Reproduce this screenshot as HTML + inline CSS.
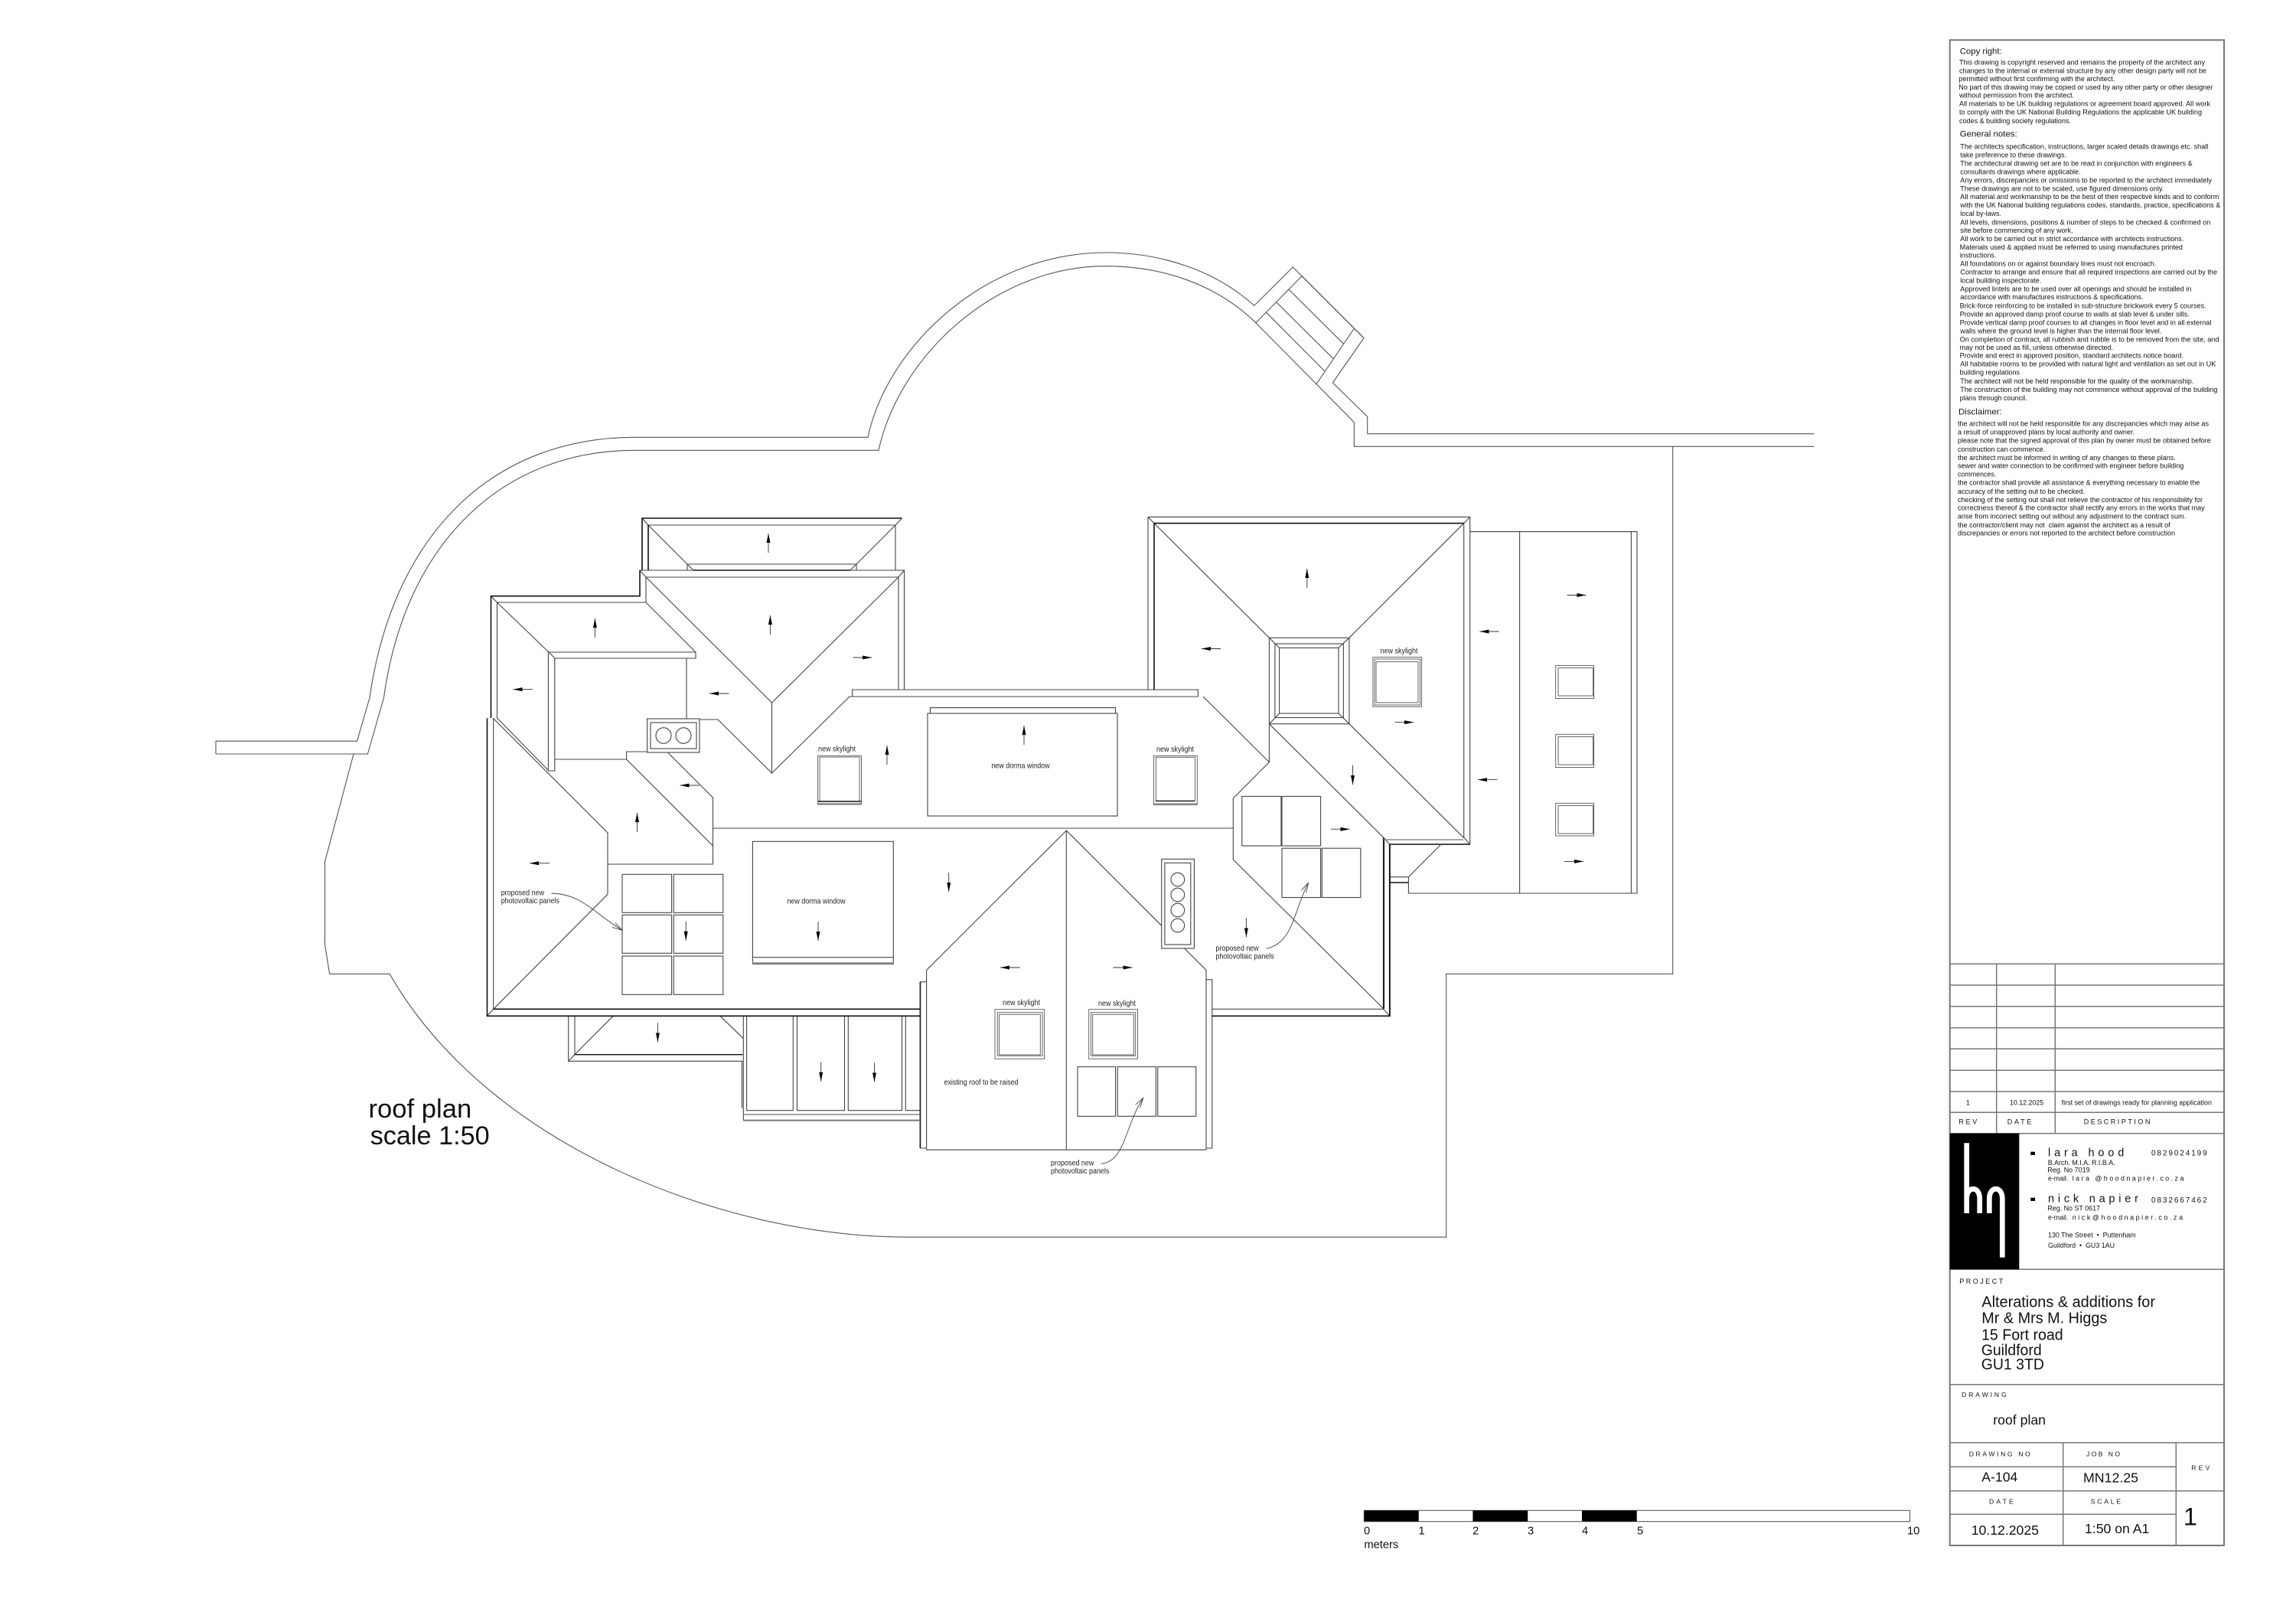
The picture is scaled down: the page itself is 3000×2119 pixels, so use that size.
<!DOCTYPE html>
<html><head><meta charset="utf-8"><title>roof plan</title>
<style>
html,body{margin:0;padding:0;background:#fff}
svg{display:block}
text{font-family:"Liberation Sans",Arial,sans-serif;fill:#111;stroke:none}
.b text{font-size:8.9px}
.l text{font-size:10.4px;fill:#222}
.h{font-size:11.4px}
</style></head><body>
<svg xmlns="http://www.w3.org/2000/svg" width="3000" height="2119" viewBox="0 0 3000 2119">
<defs>
<marker id="a" markerUnits="userSpaceOnUse" markerWidth="13" markerHeight="7" refX="12" refY="3" orient="auto"><path d="M0 .5L12 3L0 5.5Z" fill="#000"/></marker>
<marker id="o" markerUnits="userSpaceOnUse" markerWidth="14" markerHeight="10" refX="13" refY="5" orient="auto"><path d="M0 1.5L13 5L0 8.5" fill="none" stroke="#444" stroke-width=".9"/></marker>
</defs>
<rect width="3000" height="2119" fill="#fff"/>

<!-- boundary -->
<g fill="none" stroke="#555" stroke-width="1.1">
<path d="M282 985V968.2H466.6L483 911.5C515 690 650 571.3 829.3 571.3H1134C1160 450 1290 330 1444.6 330C1520 330 1590 355 1638.8 399.3L1689.3 349L1782 441.7L1741.3 500L1786.7 544.3V566.7H2370.4"/>
<path d="M282 985H480.4L501.5 911.5C530 705 660 588.3 829.3 588.3H1148C1175 465 1300 347.7 1444.6 347.7C1520 347.7 1590 372 1640.8 421.7L1720 501.7L1769.4 551.7V583.3H2370.4"/>
<path d="M1701 360.7L1640.8 421.7M1701 360.7L1769.4 429L1782 441.7M1769.4 429L1720 501.7M1684.2 378.3L1755.6 449.3M1667.9 395L1741.8 468.3M1654.6 408.3L1731 485"/>
<path d="M2185.7 583.3V1272.3H1889.7V1616.2H1185.7C950 1616 640 1500 509 1272.3H430.6L424.5 1234V1125.8L462 985"/>
</g>

<!-- house lines -->
<g fill="none" stroke="#444" stroke-width="1.1">
<path d="M847 686L906 745M1170 686L1111 745M898 745V737H1119V745M898 737L906 745M1119 737L1111 745M839 677L847 686M1178.5 677L1170 686M847 686H1170V745"/>
<path d="M836 745H1181.5V901M844 754H1174V901M836 745L844 754M1181.5 745L1174 754M641.5 778.7L649.5 787M649.5 938V787H844V754"/>
<path d="M844 754L1008.5 918L1174 754M844 787L909 852M649.5 787L717 852M716.4 852H909V860H725M716.4 852V1007H724.8V860M717 852L725 860M897 860V939"/>
<path d="M1008.5 918V1010M914 940H938L1008.5 1010L1110 910H1113.7V901H1565.4V910H1113.7"/>
<path d="M725 992H818.6V982H845.6M818.6 992L931.5 1105M872.5 983L931.5 1042V1129H794M931.5 1082H1611.3"/>
<path d="M644.7 938V1318.3M644 938L794 1088V1168.3L644.7 1318.3M649.5 938L717 1007M636.5 1327.3L644.7 1318.3"/>
<rect x="845.6" y="939" width="68.4" height="44"/><rect x="850" y="944" width="60" height="34"/>
<ellipse cx="867" cy="961" rx="10" ry="10.3"/><ellipse cx="893" cy="961" rx="10" ry="10.3"/>
<path d="M1572 910L1658.4 995.7L1611.3 1043V1123L1808 1318M1658.4 945.7V995.7"/>
<path d="M1508 683.6L1658.4 833.2M1912.7 683.6L1762.9 833.2M1658.4 945.7L1808.2 1094.6M1762.9 945.7L1912.7 1094.6"/>
<rect x="1658.4" y="833.2" width="104.5" height="112.5"/><rect x="1665.9" y="841" width="89.5" height="96.5"/><rect x="1671.6" y="846.4" width="77.4" height="85.6"/>
<path d="M1658.4 833.2L1671.6 846.4M1762.9 833.2L1749 846.4M1658.4 945.7L1671.6 932M1762.9 945.7L1749 932"/>
<path d="M1500 675.4L1508 683.6M1920.7 675.4L1912.7 683.6M1500 675.4H1920.7V1103M1912.7 683.6V1094.3M1808.2 1094.6L1815.7 1103M1912.7 1094.3L1920.7 1103"/>
<path d="M1920.7 694.6H2139V1167H1840.4V1145.7M1985.6 694.6V1167M2131.4 694.6V1167M1815.7 1145.7H1840.4L1882 1104"/>
<path d="M1807.4 1094.3V1318.3H1583.8M1815.7 1103V1327.3M1807.4 1318.3L1816 1327.3"/>
<path d="M1202.4 1282.7H1210.6M1202.4 1500H1210.6M1210.6 1502.3V1267.3L1393.3 1085L1517.7 1209.3M1393.3 1085V1502M1547.6 1239L1576 1267.3V1502M1576 1279.7H1583.8V1500H1576M1211 1502.3H1576"/>
<path d="M742.7 1327.3V1386.3H970.4M751 1327.3V1377.7H970.4M800.8 1327.7L751 1377.7L742.7 1386.3M941.3 1327.7L971.3 1356.7M971.3 1327V1463M969.5 1386V1447.7M971.3 1456H1202.4M971.3 1463.3H1202.4"/>
<path d="M975.6 1327.3V1450.7H1036.3V1327.3M1041.5 1327.3V1450.7H1103.5V1327.3M1108.3 1327.3V1450.7H1178.5V1327.3M1183.3 1327.3V1450.7H1202.4"/>
<rect x="1212" y="932" width="248" height="134"/><path d="M1215.5 932V924.6H1457.5V932"/>
<rect x="983.4" y="1099.3" width="183.9" height="160"/><path d="M983.4 1250.7H1167.3"/>
<!-- flue -->
<rect x="1517.7" y="1122.3" width="42.7" height="116.7"/><rect x="1521.9" y="1127.3" width="33.9" height="106.7"/>
<circle cx="1538.8" cy="1149" r="8.8"/><circle cx="1538.8" cy="1169" r="8.8"/><circle cx="1538.8" cy="1189" r="8.8"/><circle cx="1538.8" cy="1209" r="8.8"/>
<!-- PV panels -->
<rect x="813" y="1142.3" width="64.6" height="50"/><rect x="880.2" y="1142.3" width="64.6" height="50"/>
<rect x="813" y="1195.3" width="64.6" height="50"/><rect x="880.2" y="1195.3" width="64.6" height="50"/>
<rect x="813" y="1249" width="64.6" height="50.3"/><rect x="880.2" y="1249" width="64.6" height="50.3"/>
<rect x="1622.8" y="1040.4" width="51.1" height="64.6"/><rect x="1675" y="1040.4" width="50.6" height="64.6"/>
<rect x="1675" y="1108.2" width="50.6" height="64.3"/><rect x="1727.3" y="1108.2" width="50.5" height="64.3"/>
<rect x="1408" y="1393.7" width="49.6" height="64.6"/><rect x="1460.3" y="1393.7" width="50.1" height="64.6"/><rect x="1512.7" y="1393.7" width="50" height="64.6"/>
</g>
<!-- skylights (finer lines) -->
<g fill="none" stroke="#555" stroke-width=".9">
<rect x="1068.6" y="987.3" width="56.9" height="63.7"/><rect x="1071" y="989" width="52" height="58"/>
<rect x="1507.4" y="987.5" width="56.9" height="63.9"/><rect x="1510.3" y="989.3" width="51.1" height="57.1"/>
<rect x="1793.9" y="858.6" width="63.7" height="64.6"/><rect x="1796" y="861" width="59.5" height="60"/><rect x="1798" y="864.6" width="55" height="53.3"/>
<rect x="2032.7" y="869.6" width="49.9" height="42.9"/><rect x="2036" y="872.5" width="45.5" height="36.5"/>
<rect x="2032.7" y="959.3" width="49.9" height="43.2"/><rect x="2036" y="962.5" width="45.5" height="36.5"/>
<rect x="2032.7" y="1049.3" width="49.9" height="42.7"/><rect x="2036" y="1052.5" width="45.5" height="36.5"/>
<rect x="1300" y="1318.7" width="64.4" height="64.6"/><rect x="1303.3" y="1322.7" width="58.7" height="56.6"/><rect x="1305.6" y="1325.3" width="53.7" height="52.7"/>
<rect x="1422.7" y="1318.7" width="63.8" height="64.6"/><rect x="1425.4" y="1322.7" width="58.3" height="56.6"/><rect x="1427.7" y="1325.3" width="53.7" height="52.7"/>
</g>
<!-- heavy lines -->
<g fill="none" stroke="#111" stroke-width="1.6">
<path d="M839 745V677H1178.5M847 686V745M906 745H1111"/>
<path d="M641.5 938V778.7H836V745"/>
<path d="M636.5 938.3V1327.3H1202.4M644.7 1318.3H1202.4M1202.4 1282.7V1500"/>
<path d="M1508 901V683.6H1912.7"/>
<path d="M1583.8 1327.3H1816V1103H1920.7M1808.2 1094.6V1318M1815.7 1103V1327"/>
<path d="M1815.7 1153H1840"/>
<path d="M751 1377.7H970M1069 1047H1125M1510 1046.4H1561" stroke-width="1.4"/>
<path d="M1500 675.4V901" stroke="#444" stroke-width="1.1"/>
</g>
<g fill="none" stroke="#888" stroke-width="1.6">
<path d="M1808 1097H1912M971 1464H1202M1211 1502H1576M983 1258H1167M1069 1050H1125M1507 1050H1564"/>
</g>
<!-- slope arrows -->
<g fill="none" stroke="#333" stroke-width=".9">
<path d="M1004 722V697" marker-end="url(#a)"/><path d="M1006.4 829V804" marker-end="url(#a)"/><path d="M777.4 833V808" marker-end="url(#a)"/>
<path d="M832.5 1087V1062" marker-end="url(#a)"/><path d="M1159 999V974" marker-end="url(#a)"/><path d="M1338 973V948" marker-end="url(#a)"/><path d="M1707.8 768V743" marker-end="url(#a)"/>
<path d="M1114.5 859H1139" marker-end="url(#a)"/><path d="M696 900.6H670.5" marker-end="url(#a)"/><path d="M952.5 906H927" marker-end="url(#a)"/><path d="M914 1026H888.5" marker-end="url(#a)"/><path d="M718 1127.7H692" marker-end="url(#a)"/>
<path d="M1595 847.5H1570" marker-end="url(#a)"/><path d="M1822.6 943.6H1847" marker-end="url(#a)"/><path d="M1738.8 1083.2H1763.5" marker-end="url(#a)"/><path d="M1958.6 825H1933.4" marker-end="url(#a)"/><path d="M1956.3 1018.6H1931" marker-end="url(#a)"/><path d="M2047.6 777.5H2072.3" marker-end="url(#a)"/><path d="M2044 1125.4H2069" marker-end="url(#a)"/>
<path d="M1332.7 1264H1307" marker-end="url(#a)"/><path d="M1454.4 1264H1479.6" marker-end="url(#a)"/>
<path d="M1767.5 999.6V1025" marker-end="url(#a)"/><path d="M896.2 1203.7V1228.7" marker-end="url(#a)"/><path d="M1069 1203.7V1229" marker-end="url(#a)"/><path d="M1239.7 1140V1165" marker-end="url(#a)"/><path d="M1628.4 1199V1224.3" marker-end="url(#a)"/><path d="M859.4 1336.3V1361.3" marker-end="url(#a)"/><path d="M1072.7 1387.3V1412.7" marker-end="url(#a)"/><path d="M1142.5 1388.3V1413.3" marker-end="url(#a)"/>
</g>
<!-- leaders -->
<g fill="none" stroke="#444" stroke-width=".9">
<path d="M720.6 1167C760 1168 775 1192 813 1215.3" marker-end="url(#o)"/>
<path d="M1438.8 1520.3C1470 1518 1470 1470 1493.8 1434.3" marker-end="url(#o)"/>
<path d="M1654.5 1239.3C1690 1232 1690 1190 1709.6 1153.3" marker-end="url(#o)"/>
</g>
<!-- plan labels -->
<g class="l">
<text x="1069" y="981.5" textLength="49" lengthAdjust="spacingAndGlyphs">new skylight</text>
<text x="1511" y="982" textLength="49" lengthAdjust="spacingAndGlyphs">new skylight</text>
<text x="1803.5" y="853.5" textLength="49" lengthAdjust="spacingAndGlyphs">new skylight</text>
<text x="1310" y="1312.8" textLength="49" lengthAdjust="spacingAndGlyphs">new skylight</text>
<text x="1435" y="1314.2" textLength="49" lengthAdjust="spacingAndGlyphs">new skylight</text>
<text x="1295.5" y="1003.5" textLength="76" lengthAdjust="spacingAndGlyphs">new dorma window</text>
<text x="1028.5" y="1180.5" textLength="76" lengthAdjust="spacingAndGlyphs">new dorma window</text>
<text x="1233.5" y="1416.8" textLength="97" lengthAdjust="spacingAndGlyphs">existing roof to be raised</text>
<text x="654.7" y="1169.5" textLength="56.4" lengthAdjust="spacingAndGlyphs">proposed new</text>
<text x="654.7" y="1180.2" textLength="76.3" lengthAdjust="spacingAndGlyphs">photovoltaic panels</text>
<text x="1588.4" y="1241.8" textLength="56.4" lengthAdjust="spacingAndGlyphs">proposed new</text>
<text x="1588.4" y="1252.5" textLength="76.3" lengthAdjust="spacingAndGlyphs">photovoltaic panels</text>
<text x="1373" y="1522.5" textLength="56.4" lengthAdjust="spacingAndGlyphs">proposed new</text>
<text x="1373" y="1533.2" textLength="76.3" lengthAdjust="spacingAndGlyphs">photovoltaic panels</text>
</g>
<text x="481.5" y="1460" font-size="34.5" textLength="134.7" lengthAdjust="spacingAndGlyphs">roof plan</text>
<text x="483.7" y="1495" font-size="34.2" textLength="156" lengthAdjust="spacingAndGlyphs">scale 1:50</text>

<!-- scale bar -->
<rect x="1782.4" y="1973.3" width="713.1" height="14.4" fill="#fff" stroke="#666" stroke-width="1.2"/>
<g fill="#000"><rect x="1782.4" y="1973.3" width="71.3" height="14.4"/><rect x="1924.4" y="1973.3" width="71.8" height="14.4"/><rect x="2067" y="1973.3" width="71.7" height="14.4"/></g>
<g font-size="14.7">
<text x="1782" y="2004.5">0</text><text x="1853.5" y="2004.5">1</text><text x="1924" y="2004.5">2</text><text x="1996" y="2004.5">3</text><text x="2067" y="2004.5">4</text><text x="2139" y="2004.5">5</text><text x="2492" y="2004.5">10</text>
<text x="1782.4" y="2022.5">meters</text>
</g>

<!-- title block -->
<g fill="none" stroke="#777" stroke-width="1.5">
<rect x="2547.7" y="52.3" width="358.3" height="1966.7" stroke-width="2"/>
<path d="M2547.7 1259.3H2906M2547.7 1287H2906M2547.7 1314.7H2906M2547.7 1342.7H2906M2547.7 1370.3H2906M2547.7 1398.3H2906M2547.7 1426H2906M2547.7 1453.3H2906M2547.7 1480.7H2906M2608.7 1259.3V1480.7M2685.3 1259.3V1480.7"/>
<path d="M2547.7 1658.3H2906M2547.7 1808.7H2906M2547.7 1884.7H2906M2547.7 1916.3H2843.3M2547.7 1947.7H2906M2547.7 1978.3H2843.3M2695.7 1884.7V2019M2843.3 1884.7V2019"/>
</g>
<rect x="2547.7" y="1480.7" width="90.6" height="177.6" fill="#000"/>
<g fill="none" stroke="#fff" stroke-width="6.7">
<path d="M2569.7 1493.3V1585M2569.7 1566C2569.7 1549 2586.7 1549 2586.7 1566V1585"/>
<path d="M2599.3 1585V1566C2599.3 1549 2616.3 1549 2616.3 1566V1642.7"/>
</g>
<g fill="#000"><rect x="2653.3" y="1504.7" width="5.7" height="4.3"/><rect x="2653.3" y="1564.7" width="5.7" height="4.3"/></g>

<!-- notes -->
<text class="h" x="2560.7" y="70.7" textLength="55">Copy right:</text>
<text class="h" x="2560.7" y="178.7" textLength="75">General notes:</text>
<text class="h" x="2559" y="541.7" textLength="56.7">Disclaimer:</text>
<g class="b">
<text x="2560" y="84.3" textLength="321" lengthAdjust="spacingAndGlyphs">This drawing is copyright reserved and remains the property of the architect any</text>
<text x="2560" y="95.3" textLength="323" lengthAdjust="spacingAndGlyphs">changes to the internal or external structure by any other design party will not be</text>
<text x="2559.3" y="106" textLength="204" lengthAdjust="spacingAndGlyphs">permitted without first confirming with the architect.</text>
<text x="2559.3" y="117" textLength="332" lengthAdjust="spacingAndGlyphs">No part of this drawing may be copied or used by any other party or other designer</text>
<text x="2560" y="127.7" textLength="150" lengthAdjust="spacingAndGlyphs">without permission from the architect.</text>
<text x="2560" y="138.7" textLength="328" lengthAdjust="spacingAndGlyphs">All materials to be UK building regulations or agreement board approved. All work</text>
<text x="2560" y="149.7" textLength="317" lengthAdjust="spacingAndGlyphs">to comply with the UK National Building Regulations the applicable UK building</text>
<text x="2560" y="161" textLength="146" lengthAdjust="spacingAndGlyphs">codes &amp; building society regulations.</text>
<text x="2561.3" y="194.3" textLength="324" lengthAdjust="spacingAndGlyphs">The architects specification, instructions, larger scaled details drawings etc. shall</text>
<text x="2561.3" y="205.7" textLength="138.7" lengthAdjust="spacingAndGlyphs">take preference to these drawings.</text>
<text x="2561.3" y="216.7" textLength="303.3" lengthAdjust="spacingAndGlyphs">The architectural drawing set are to be read in conjunction with engineers &amp;</text>
<text x="2561.3" y="227.3" textLength="157.3" lengthAdjust="spacingAndGlyphs">consultants drawings where applicable.</text>
<text x="2561.3" y="238.3" textLength="328.7" lengthAdjust="spacingAndGlyphs">Any errors, discrepancies or omissions to be reported to the architect immediately</text>
<text x="2561.3" y="249.3" textLength="266" lengthAdjust="spacingAndGlyphs">These drawings are not to be scaled, use figured dimensions only.</text>
<text x="2561.3" y="260" textLength="338" lengthAdjust="spacingAndGlyphs">All material and workmanship to be the best of their respective kinds and to conform</text>
<text x="2561.3" y="271" textLength="340" lengthAdjust="spacingAndGlyphs">with the UK National building regulations codes, standards, practice, specifications &amp;</text>
<text x="2561.3" y="282" textLength="53.7" lengthAdjust="spacingAndGlyphs">local by-laws.</text>
<text x="2561.3" y="293.3" textLength="327" lengthAdjust="spacingAndGlyphs">All levels, dimensions, positions &amp; number of steps to be checked &amp; confirmed on</text>
<text x="2561.3" y="304" textLength="147.3" lengthAdjust="spacingAndGlyphs">site before commencing of any work.</text>
<text x="2561.3" y="315" textLength="292" lengthAdjust="spacingAndGlyphs">All work to be carried out in strict accordance with architects instructions.</text>
<text x="2560.7" y="326" textLength="291.3" lengthAdjust="spacingAndGlyphs">Materials used &amp; applied must be referred to using manufactures printed</text>
<text x="2560.7" y="336.7" textLength="47.7" lengthAdjust="spacingAndGlyphs">instructions.</text>
<text x="2561.3" y="347.7" textLength="256" lengthAdjust="spacingAndGlyphs">All foundations on or against boundary lines must not encroach.</text>
<text x="2561.3" y="358.7" textLength="335.7" lengthAdjust="spacingAndGlyphs">Contractor to arrange and ensure that all required inspections are carried out by the</text>
<text x="2561.3" y="369.7" textLength="106" lengthAdjust="spacingAndGlyphs">local building inspectorate.</text>
<text x="2561.3" y="380.3" textLength="302" lengthAdjust="spacingAndGlyphs">Approved lintels are to be used over all openings and should be installed in</text>
<text x="2561.3" y="391" textLength="239.3" lengthAdjust="spacingAndGlyphs">accordance with manufactures instructions &amp; specifications.</text>
<text x="2560.7" y="402.7" textLength="322" lengthAdjust="spacingAndGlyphs">Brick-force reinforcing to be installed in sub-structure brickwork every 5 courses.</text>
<text x="2560.7" y="413.7" textLength="300" lengthAdjust="spacingAndGlyphs">Provide an approved damp proof course to walls at slab level &amp; under sills.</text>
<text x="2560.7" y="424.7" textLength="328.7" lengthAdjust="spacingAndGlyphs">Provide vertical damp proof courses to all changes in floor level and in all external</text>
<text x="2561.3" y="435.3" textLength="263" lengthAdjust="spacingAndGlyphs">walls where the ground level is higher than the internal floor level.</text>
<text x="2560.7" y="446.3" textLength="338.7" lengthAdjust="spacingAndGlyphs">On completion of contract, all rubbish and rubble is to be removed from the site, and</text>
<text x="2560.7" y="457" textLength="200.3" lengthAdjust="spacingAndGlyphs">may not be used as fill, unless otherwise directed.</text>
<text x="2560.7" y="467.7" textLength="292.3" lengthAdjust="spacingAndGlyphs">Provide and erect in approved position, standard architects notice board.</text>
<text x="2561.3" y="478.7" textLength="334" lengthAdjust="spacingAndGlyphs">All habitable rooms to be provided with natural light and ventilation as set out in UK</text>
<text x="2560.7" y="489.7" textLength="78.3" lengthAdjust="spacingAndGlyphs">building regulations</text>
<text x="2561.3" y="501" textLength="305" lengthAdjust="spacingAndGlyphs">The architect will not be held responsible for the quality of the workmanship.</text>
<text x="2561.3" y="512" textLength="336" lengthAdjust="spacingAndGlyphs">The construction of the building may not commence without approval of the building</text>
<text x="2560.7" y="523" textLength="88" lengthAdjust="spacingAndGlyphs">plans through council.</text>
<text x="2558" y="556.7" textLength="328" lengthAdjust="spacingAndGlyphs">the architect will not be held responsible for any discrepancies which may arise as</text>
<text x="2558" y="567.7" textLength="231" lengthAdjust="spacingAndGlyphs">a result of unapproved plans by local authority and owner.</text>
<text x="2558" y="578.7" textLength="330.7" lengthAdjust="spacingAndGlyphs">please note that the signed approval of this plan by owner must be obtained before</text>
<text x="2558" y="590" textLength="114.3" lengthAdjust="spacingAndGlyphs">construction can commence.</text>
<text x="2558" y="601" textLength="284.7" lengthAdjust="spacingAndGlyphs">the architect must be informed in writing of any changes to these plans.</text>
<text x="2558" y="611.7" textLength="295.3" lengthAdjust="spacingAndGlyphs">sewer and water connection to be confirmed with engineer before building</text>
<text x="2558" y="622.7" textLength="50.3" lengthAdjust="spacingAndGlyphs">commences.</text>
<text x="2558" y="633.3" textLength="316.3" lengthAdjust="spacingAndGlyphs">the contractor shall provide all assistance &amp; everything necessary to enable the</text>
<text x="2558" y="645" textLength="166" lengthAdjust="spacingAndGlyphs">accuracy of the setting out to be checked.</text>
<text x="2558" y="656" textLength="320" lengthAdjust="spacingAndGlyphs">checking of the setting out shall not relieve the contractor of his responsibility for</text>
<text x="2558" y="666.7" textLength="322.7" lengthAdjust="spacingAndGlyphs">correctness thereof &amp; the contractor shall rectify any errors in the works that may</text>
<text x="2558" y="677.7" textLength="298" lengthAdjust="spacingAndGlyphs">arise from incorrect setting out without any adjustment to the contract sum.</text>
<text x="2558" y="689" textLength="277.7" lengthAdjust="spacingAndGlyphs">the contractor/client may not&#160; claim against the architect as a result of</text>
<text x="2558" y="699.7" textLength="284" lengthAdjust="spacingAndGlyphs">discrepancies or errors not reported to the architect before construction</text>

<text x="2569" y="1443.3">1</text>
<text x="2626" y="1443.3" textLength="44" lengthAdjust="spacingAndGlyphs">10.12.2025</text>
<text x="2693.7" y="1443.3" textLength="196.3" lengthAdjust="spacingAndGlyphs">first set of drawings ready for planning application</text>
<text x="2675.7" y="1522" textLength="88" lengthAdjust="spacingAndGlyphs">B.Arch. M.I.A. R.I.B.A.</text>
<text x="2675.3" y="1531.7" textLength="55.3" lengthAdjust="spacingAndGlyphs">Reg. No 7019</text>
<text x="2676" y="1542.7" textLength="26.3" lengthAdjust="spacingAndGlyphs">e-mail.</text>
<text x="2707.7" y="1542.3" textLength="145.7">lara @hoodnapier.co.za</text>
<text x="2675.3" y="1581.7" textLength="68.7" lengthAdjust="spacingAndGlyphs">Reg. No ST 0617</text>
<text x="2676" y="1593.3" textLength="26.3" lengthAdjust="spacingAndGlyphs">e-mail.</text>
<text x="2707.7" y="1593.3" textLength="144.3">nick@hoodnapier.co.za</text>
<text x="2676" y="1616.7" textLength="114.7" lengthAdjust="spacingAndGlyphs">130 The Street&#160;&#160;•&#160;&#160;Puttenham</text>
<text x="2676" y="1630" textLength="87" lengthAdjust="spacingAndGlyphs">Guildford&#160;&#160;•&#160;&#160;GU3 1AU</text>
</g>
<g font-size="9">
<text x="2559.3" y="1468.7" textLength="24">REV</text>
<text x="2622.7" y="1468.7" textLength="31.7">DATE</text>
<text x="2722.7" y="1468.7" textLength="86.7">DESCRIPTION</text>
<text x="2560.3" y="1677" textLength="57">PROJECT</text>
<text x="2563" y="1825" textLength="58.7" font-size="8.6">DRAWING</text>
<text x="2572.7" y="1902.7" textLength="80" font-size="8.6">DRAWING NO</text>
<text x="2726" y="1902.7" textLength="44" font-size="8.6">JOB NO</text>
<text x="2863.3" y="1920.3" textLength="24" font-size="8.6">REV</text>
<text x="2599" y="1964.7" textLength="31.7" font-size="8.6">DATE</text>
<text x="2731.7" y="1964.7" textLength="39.3" font-size="8.6">SCALE</text>
</g>
<text x="2676" y="1510.7" font-size="14.5" textLength="99.3">lara hood</text>
<text x="2676" y="1570.7" font-size="14.5" textLength="118">nick napier</text>
<text x="2811" y="1509.7" font-size="10" textLength="72.7">0829024199</text>
<text x="2811" y="1571" font-size="10" textLength="72.7">0832667462</text>
<g font-size="20">
<text x="2589.3" y="1707.7" textLength="226.7" lengthAdjust="spacingAndGlyphs">Alterations &amp; additions for</text>
<text x="2589.3" y="1728.3" textLength="164" lengthAdjust="spacingAndGlyphs">Mr &amp; Mrs M. Higgs</text>
<text x="2589" y="1750.3" textLength="106.7" lengthAdjust="spacingAndGlyphs">15 Fort road</text>
<text x="2588.7" y="1770.3" textLength="79" lengthAdjust="spacingAndGlyphs">Guildford</text>
<text x="2588.7" y="1789" textLength="82.3" lengthAdjust="spacingAndGlyphs">GU1 3TD</text>
</g>
<g font-size="17.6">
<text x="2604.3" y="1861" textLength="68.7" lengthAdjust="spacingAndGlyphs">roof plan</text>
<text x="2589.3" y="1935.3" textLength="47" lengthAdjust="spacingAndGlyphs">A-104</text>
<text x="2722" y="1936.7" textLength="72" lengthAdjust="spacingAndGlyphs">MN12.25</text>
<text x="2575.7" y="2005" textLength="88.3" lengthAdjust="spacingAndGlyphs">10.12.2025</text>
<text x="2724" y="2003" textLength="84.3" lengthAdjust="spacingAndGlyphs">1:50 on A1</text>
</g>
<text x="2853" y="1992.7" font-size="32">1</text>
</svg>
</body></html>
